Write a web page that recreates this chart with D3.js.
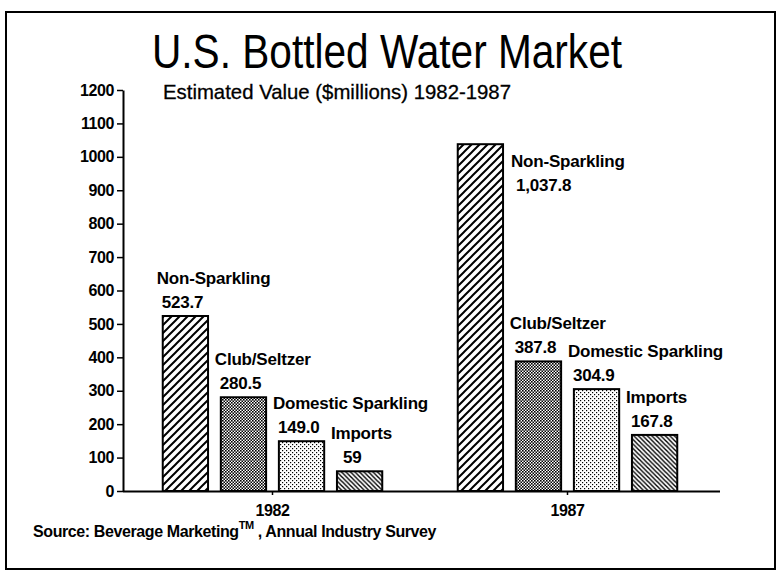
<!DOCTYPE html>
<html>
<head>
<meta charset="utf-8">
<script src="https://cdn.jsdelivr.net/npm/d3@7"></script>
<style>
  body { margin: 0; background: #fff; }
  svg { display: block; }
  text { font-family: "Liberation Sans", Arial, Helvetica, sans-serif; fill: #000; }
</style>
</head>
<body>
<svg id="chart" width="781" height="574"></svg>
<script>
const years = ['1982', '1987'];
const segments = ['Non-Sparkling', 'Club/Seltzer', 'Domestic Sparkling', 'Imports'];
const values1982 = [523.7, 280.5, 149.0, 59];
const values1987 = [1037.8, 387.8, 304.9, 167.8];
const valueLabels1982 = ['523.7', '280.5', '149.0', '59'];
const valueLabels1987 = ['1,037.8', '387.8', '304.9', '167.8'];
const yTicks = d3.range(0, 1201, 100);

const data = years.flatMap((yr, i) => {
  const vals = i === 0 ? values1982 : values1987;
  const labs = i === 0 ? valueLabels1982 : valueLabels1987;
  return segments.map((s, j) => ({ year: yr, segment: s, value: vals[j], label: labs[j] }));
});

const svg = d3.select('#chart');
const width = 781, height = 574;
const margin = { top: 90, right: 65, bottom: 83, left: 123 };
const plotBottom = height - margin.bottom;

// fill patterns, one per segment
const defs = svg.append('defs');
function hatch(id, size, dir, sw) {
  const p = defs.append('pattern').attr('id', id)
    .attr('patternUnits', 'userSpaceOnUse').attr('width', size).attr('height', size);
  p.append('rect').attr('width', size).attr('height', size).attr('fill', '#fff');
  const d = dir > 0
    ? `M0,${size} L${size},0 M${-size / 2},${size / 2} L${size / 2},${-size / 2} M${size / 2},${size * 1.5} L${size * 1.5},${size / 2}`
    : `M0,0 L${size},${size} M${-size / 2},${size / 2} L${size / 2},${size * 1.5} M${size / 2},${-size / 2} L${size * 1.5},${size / 2}`;
  p.append('path').attr('d', d).attr('stroke', '#000').attr('stroke-width', sw);
}
function dots(id, size, r, bg) {
  const p = defs.append('pattern').attr('id', id)
    .attr('patternUnits', 'userSpaceOnUse').attr('width', size).attr('height', size);
  p.append('rect').attr('width', size).attr('height', size).attr('fill', bg);
  p.append('rect').attr('x', 0).attr('y', 0).attr('width', r).attr('height', r).attr('fill', '#000');
  p.append('rect').attr('x', size / 2).attr('y', size / 2).attr('width', r).attr('height', r).attr('fill', '#000');
}
hatch('p-non', 8, 1, 2);
dots('p-club', 3, 1.6, '#fff');
dots('p-dom', 4, 1.2, '#fff');
hatch('p-imp', 4.5, -1, 1.4);
const fills = d3.scaleOrdinal().domain(segments)
  .range(['url(#p-non)', 'url(#p-club)', 'url(#p-dom)', 'url(#p-imp)']);

// frame
svg.append('rect').attr('x', 6).attr('y', 12).attr('width', 769).attr('height', 557)
  .attr('fill', 'none').attr('stroke', '#000').attr('stroke-width', 2);

svg.append('text').attr('x', 152).attr('y', 68)
  .attr('font-size', 48).attr('textLength', 470).attr('lengthAdjust', 'spacingAndGlyphs')
  .text('U.S. Bottled Water Market');
svg.append('text').attr('x', 163).attr('y', 99)
  .attr('font-size', 21).attr('textLength', 348).attr('lengthAdjust', 'spacingAndGlyphs')
  .attr('stroke', '#000').attr('stroke-width', 0.3)
  .text('Estimated Value ($millions)  1982-1987');

const x0 = d3.scaleBand().domain(years).range([margin.left + 2, width - margin.right - 1]);
const x1 = d3.scaleBand().domain(segments).range([0, x0.bandwidth()])
  .paddingInner(0.22).paddingOuter(0.65);
const y = d3.scaleLinear().domain([0, 1200]).range([plotBottom, margin.top]);

const g = svg.append('g');

g.selectAll('rect.bar').data(data).enter().append('rect')
  .attr('class', 'bar')
  .attr('x', d => x0(d.year) + x1(d.segment))
  .attr('y', d => y(d.value))
  .attr('width', x1.bandwidth())
  .attr('height', d => plotBottom - y(d.value))
  .attr('fill', d => fills(d.segment))
  .attr('stroke', '#000').attr('stroke-width', 2);

// labels sit above each bar, or beside it when the bar nearly reaches the top
const lab = g.selectAll('g.lab').data(data).enter().append('g').attr('class', 'lab')
  .attr('transform', d => {
    const bx = x0(d.year) + x1(d.segment);
    const top = y(d.value);
    return d.value > 1000
      ? `translate(${bx + x1.bandwidth() + 8},${top + 23})`
      : `translate(${bx - 6},${top - 32})`;
  });
lab.append('text').attr('font-size', 17).attr('font-weight', 'bold')
  .attr('letter-spacing', -0.2).text(d => d.segment);
lab.append('text').attr('y', 24).attr('x', d => d.value < 100 ? 12 : 5)
  .attr('font-size', 17).attr('font-weight', 'bold')
  .attr('letter-spacing', -0.2).text(d => d.label);

// axes
const yAxis = g.append('g').attr('transform', `translate(${margin.left},0)`)
  .call(d3.axisLeft(y).tickValues(yTicks).tickFormat(d3.format('d'))
    .tickSize(6).tickPadding(3).tickSizeOuter(0));
const xAxis = g.append('g').attr('transform', `translate(0,${plotBottom})`)
  .call(d3.axisBottom(x0).tickSize(4).tickPadding(10).tickSizeOuter(0));
xAxis.select('.domain').attr('d', `M${margin.left},0.5H${width - margin.right + 4}`);
[yAxis, xAxis].forEach(a => {
  a.select('.domain').attr('stroke-width', 2);
  a.selectAll('.tick line').attr('stroke-width', 1.5);
  a.selectAll('.tick text').attr('font-family', '"Liberation Sans", Arial, sans-serif')
    .attr('font-size', 16).attr('font-weight', 'bold').attr('letter-spacing', -0.4).attr('fill', '#000');
});

const src = svg.append('text').attr('x', 33).attr('y', 537)
  .attr('font-size', 16).attr('font-weight', 'bold').attr('letter-spacing', -0.4);
src.append('tspan').text('Source:  Beverage Marketing');
src.append('tspan').attr('dy', -8).attr('font-size', 11).text('TM');
src.append('tspan').attr('dy', 8).text(' , Annual Industry Survey');
</script>
</body>
</html>
